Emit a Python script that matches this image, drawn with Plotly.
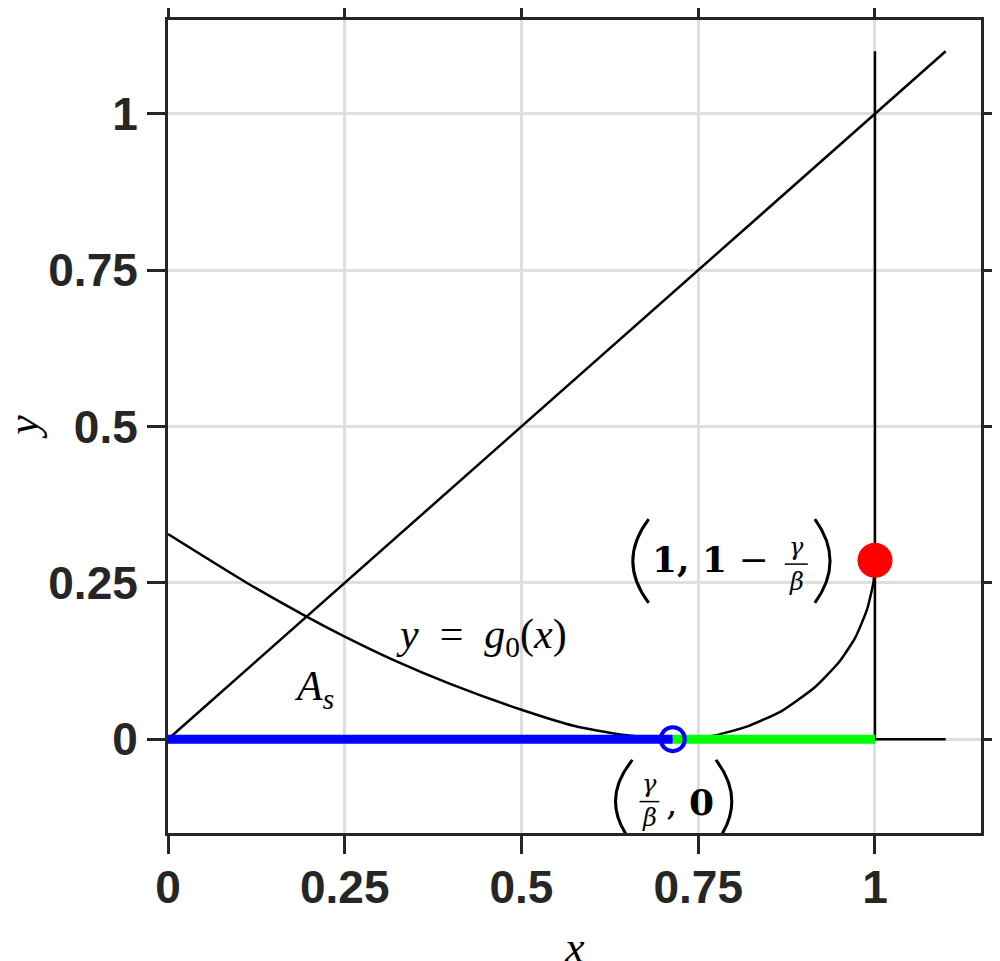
import plotly.graph_objects as go

# values
ratio = 0.714          # gamma / beta
top_val = 0.286        # 1 - gamma / beta

diag_x = [0, 1.1]
diag_y = [0, 1.1]
vert_x = [1, 1]
vert_y = [0, 1.1]
tail_x = [1, 1.1]
tail_y = [0, 0]

g0_left_x = [0, 0.113, 0.196, 0.25, 0.32, 0.40, 0.5, 0.575, 0.642, 0.714]
g0_left_y = [0.328, 0.249, 0.196, 0.164, 0.126, 0.088, 0.047, 0.021, 0.007, 0]

g0_right_x = [0.714, 0.745, 0.774, 0.821, 0.868, 0.915, 0.949, 0.972, 0.989, 0.998, 1.0]
g0_right_y = [0, 0.002, 0.006, 0.021, 0.045, 0.083, 0.123, 0.162, 0.208, 0.252, 0.286]

blue_x = [0, ratio]
blue_y = [0, 0]
green_x = [ratio, 1]
green_y = [0, 0]

tick_vals = [0, 0.25, 0.5, 0.75, 1]
tick_text = ['0', '0.25', '0.5', '0.75', '1']

AX = '#262626'
GRID = '#dedede'
SERIF = 'Liberation Serif'
MATH = 'DejaVu Serif'

fig = go.Figure()

blk = dict(color='black', width=2.5)
fig.add_trace(go.Scatter(x=diag_x, y=diag_y, mode='lines', line=blk))
fig.add_trace(go.Scatter(x=vert_x, y=vert_y, mode='lines', line=blk))
fig.add_trace(go.Scatter(x=tail_x, y=tail_y, mode='lines', line=blk))
fig.add_trace(go.Scatter(x=g0_left_x, y=g0_left_y, mode='lines',
                         line=dict(color='black', width=2.5, shape='spline', smoothing=0.6)))
fig.add_trace(go.Scatter(x=g0_right_x, y=g0_right_y, mode='lines',
                         line=dict(color='black', width=2.5, shape='spline', smoothing=0.5)))
fig.add_trace(go.Scatter(x=blue_x, y=blue_y, mode='lines', line=dict(color='#0000ff', width=9)))
fig.add_trace(go.Scatter(x=green_x, y=green_y, mode='lines', line=dict(color='#00ff00', width=9)))
fig.add_trace(go.Scatter(x=[ratio], y=[0], mode='markers',
                         marker=dict(size=24, color='rgba(0,0,0,0)',
                                     line=dict(color='#0000ff', width=4))))
fig.add_trace(go.Scatter(x=[1], y=[top_val], mode='markers',
                         marker=dict(size=35, color='#ff0000', line=dict(width=0))))

axis_common = dict(
    tickvals=tick_vals, ticktext=tick_text, automargin=False,
    showgrid=True, gridcolor=GRID, gridwidth=3, zeroline=False,
    showline=True, linecolor=AX, linewidth=3, mirror='ticks',
    ticks='outside', ticklen=18, tickwidth=3, tickcolor=AX,
    tickfont=dict(family='Liberation Sans', size=46, color=AX, weight='bold'),
)
fig.update_xaxes(range=[0, 1.15], ticklabelstandoff=-6, **axis_common)
fig.update_yaxes(range=[-0.15, 1.15], **axis_common)


def note(text, x, y, size, xref='x', yref='y', angle=0, family=SERIF):
    fig.add_annotation(text=text, x=x, y=y, xref=xref, yref=yref, showarrow=False,
                       textangle=angle, xanchor='center', yanchor='middle',
                       font=dict(family=family, size=size, color='black'))


def paren(x_end, x_ctrl, y_top, y_bot):
    # thin tall bracket drawn as a quadratic curve
    y_mid = (y_top + y_bot) / 2
    fig.add_shape(type='path', xref='x', yref='y',
                  path=f'M {x_end},{y_top} Q {x_ctrl},{y_mid} {x_end},{y_bot}',
                  line=dict(color='black', width=3))


def frac_bar(x0, x1, y):
    fig.add_shape(type='line', x0=x0, x1=x1, y0=y, y1=y,
                  line=dict(color='black', width=1.5))


# axis titles
note('<i>x</i>', 0.5, -0.141, 44, 'paper', 'paper')
note('<i>y</i>', -0.178, 0.5, 44, 'paper', 'paper', angle=-90)

# curve labels
note('<i>A</i><sub><i>s</i></sub>', 0.207, 0.081, 42)
note('<i>y</i>&nbsp; = &nbsp;<i>g</i><sub>0</sub>(<i>x</i>)', 0.443, 0.163, 42)

# (1, 1 - gamma/beta)
paren(0.680, 0.635, 0.352, 0.218)
note('<b>1, 1</b> −', 0.767, 0.288, 36, family=MATH)
note('<i>γ</i>', 0.889, 0.308, 24, family=MATH)
note('<i>β</i>', 0.889, 0.251, 24, family=MATH)
frac_bar(0.8725, 0.905, 0.280)
paren(0.915, 0.958, 0.352, 0.218)

# (gamma/beta, 0)
paren(0.657, 0.609, -0.033, -0.166)
note('<i>γ</i>', 0.681, -0.072, 24, family=MATH)
note('<i>β</i>', 0.681, -0.126, 24, family=MATH)
frac_bar(0.667, 0.695, -0.0998)
note(', <b>0</b>', 0.738, -0.100, 36, family=MATH)
paren(0.775, 0.820, -0.033, -0.166)

# the page body adds an 8px offset, so margins are trimmed by that much
fig.update_layout(
    width=1000, height=961,
    margin=dict(l=160, r=27, t=12, b=136),
    paper_bgcolor='white', plot_bgcolor='white',
    showlegend=False,
)

fig.write_html("out.html")
